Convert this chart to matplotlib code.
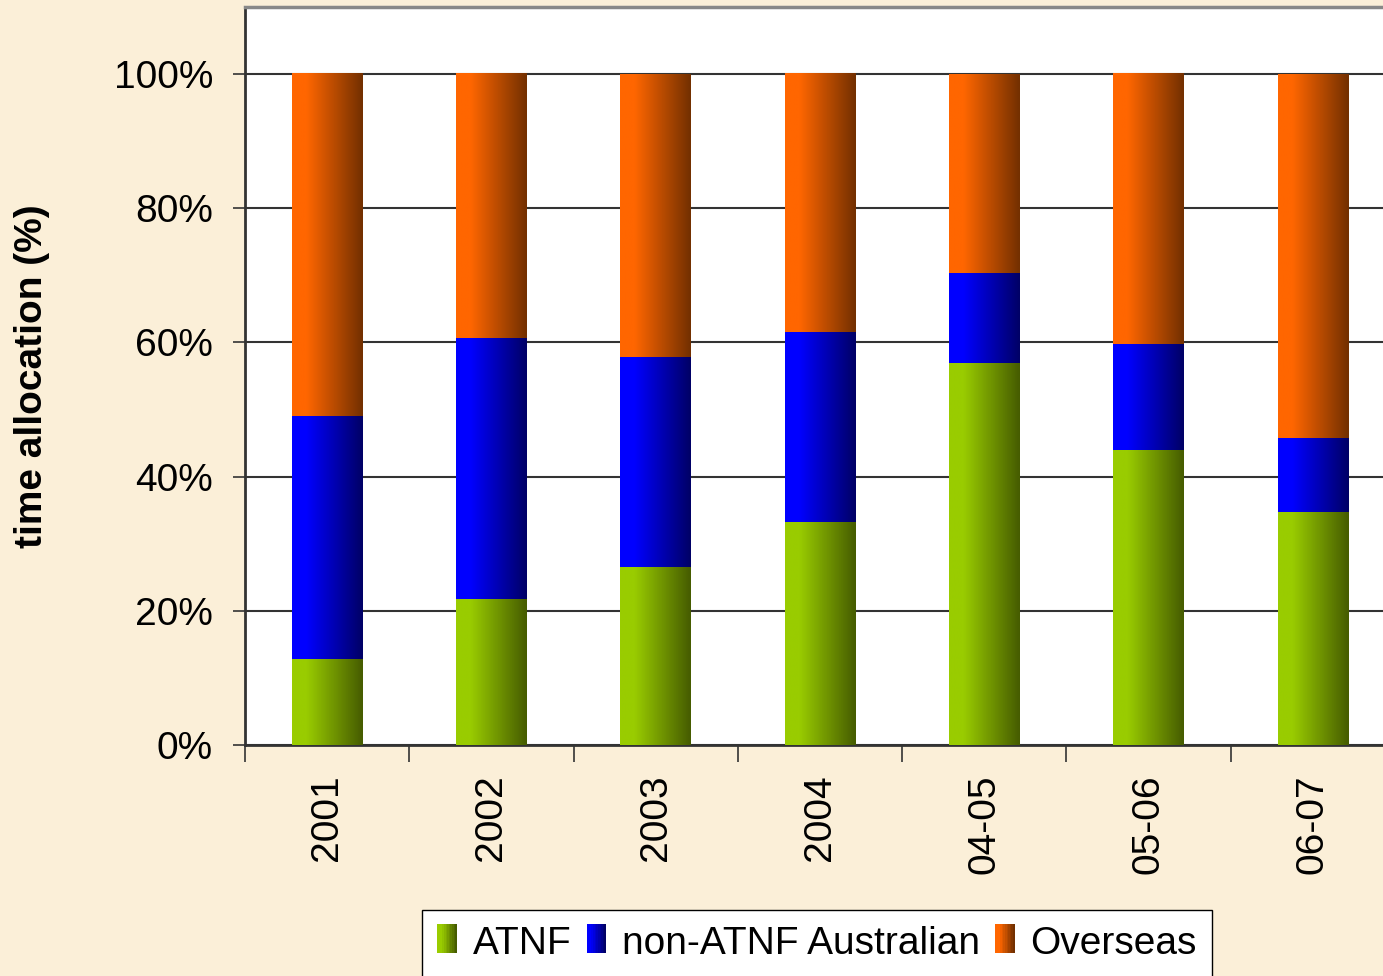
import numpy as np
import matplotlib.pyplot as plt
from matplotlib.patches import Rectangle
from matplotlib.colors import LinearSegmentedColormap, to_rgb

plt.rcParams['font.family'] = ['Liberation Sans', 'DejaVu Sans']

# data (percent of time)
years = ['2001', '2002', '2003', '2004', '04-05', '05-06', '06-07']
atnf = [12.8, 21.7, 26.6, 33.3, 57.0, 44.0, 34.7]
non_atnf_aus = [36.2, 38.9, 31.3, 28.2, 13.4, 15.7, 11.1]
overseas = [100 - a - b for a, b in zip(atnf, non_atnf_aus)]

series = [
    ('ATNF', atnf, '#99cc00', '#465c00'),
    ('non-ATNF Australian', non_atnf_aus, '#0000ff', '#000066'),
    ('Overseas', overseas, '#ff6600', '#733000'),
]

bg = '#fbefd8'
width = 0.43


def grad_cmap(c1, c2):
    return LinearSegmentedColormap.from_list('g', [(0, c1), (0.2, c1), (1, c2)])


class GradHandler:
    def __init__(self, c1, c2):
        self.c1, self.c2 = np.array(to_rgb(c1)), np.array(to_rgb(c2))

    def legend_artist(self, legend, orig_handle, fontsize, handlebox):
        x0, y0 = handlebox.xdescent, handlebox.ydescent
        w, h = handlebox.width, handlebox.height
        n = 12
        for i in range(n):
            f = i / (n - 1)
            c = self.c1 + (self.c2 - self.c1) * max(0, (f - 0.2) / 0.8)
            r = Rectangle((x0 + w * i / n, y0), w / n + 0.3, h, facecolor=c,
                          edgecolor='none', transform=handlebox.get_transform())
            handlebox.add_artist(r)
        return r


fig = plt.figure(figsize=(13.83, 9.76), dpi=100, facecolor=bg)
ax = fig.add_axes([245 / 1383, 1 - 745 / 976, 1150 / 1383, 738 / 976])
ax.set_facecolor('white')

x = np.arange(len(years))
grad = np.linspace(0, 1, 100).reshape(1, -1)
bottom = np.zeros(len(years))
handles = []
hmap = {}
for name, vals, c1, c2 in series:
    cm = grad_cmap(c1, c2)
    for xi, b, v in zip(x, bottom, vals):
        ax.imshow(grad, cmap=cm, aspect='auto', interpolation='bilinear',
                  extent=(xi - width / 2, xi + width / 2, b, b + v), zorder=3)
    bottom = bottom + np.array(vals)
    h = Rectangle((0, 0), 1, 1, facecolor=c1)
    handles.append(h)
    hmap[h] = GradHandler(c1, c2)

ax.set_xlim(-0.5, len(years) - 0.5)
ax.set_ylim(0, 110)
ax.set_yticks(np.arange(0, 101, 20))
ax.set_yticklabels(['%d%%' % v for v in range(0, 101, 20)], fontsize=28)
ax.yaxis.grid(True, color='#333333', linewidth=1.5, zorder=1)
ax.set_axisbelow(True)

ax.set_xticks(x)
ax.set_xticklabels(years, rotation=90, fontsize=28)
ax.tick_params(axis='x', which='major', length=0, pad=21)
ax.set_xticks(np.arange(-0.5, len(years), 1), minor=True)
ax.tick_params(axis='x', which='minor', length=12, width=1.2, color='#333333')
ax.tick_params(axis='y', length=9, width=1.2, color='#333333', pad=14)

ax.set_ylabel('time allocation (%)', fontsize=28, fontweight='bold')
ax.yaxis.set_label_coords(-0.1696, 0.5)

for s in ['left', 'bottom']:
    ax.spines[s].set_color('#333333')
    ax.spines[s].set_linewidth(2)
ax.spines['top'].set_color('#888888')
ax.spines['top'].set_linewidth(2.5)
ax.spines['right'].set_visible(False)

leg = fig.legend(handles, [s[0] for s in series], handler_map=hmap,
                 loc='upper center', bbox_to_anchor=(817 / 1383, 1 - 910 / 976),
                 ncol=3, fontsize=28, frameon=True, fancybox=False,
                 edgecolor='black', framealpha=1, handlelength=0.5,
                 handleheight=0.75, handletextpad=0.4, columnspacing=0.4,
                 borderpad=0.4, borderaxespad=0)
leg.get_frame().set_linewidth(1)

fig.savefig('out.png', dpi=100, facecolor=bg)
